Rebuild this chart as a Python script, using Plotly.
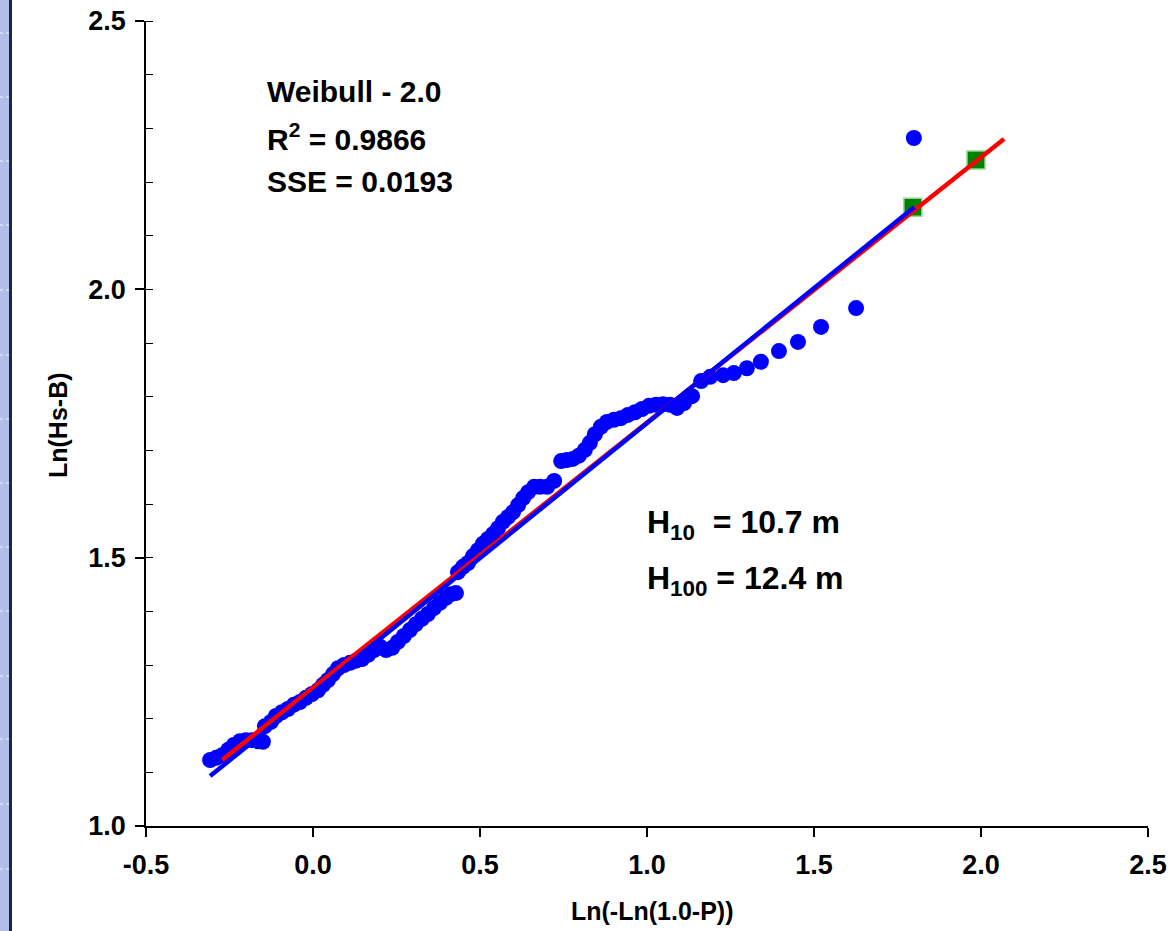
import plotly.graph_objects as go

# Observed points: Ln(-Ln(1.0-P)) vs Ln(Hs-B)
obs_x = [-0.308, -0.290, -0.272, -0.254, -0.237, -0.219, -0.201, -0.183, -0.165, -0.150,
         -0.144, -0.126, -0.111, -0.093, -0.075, -0.057, -0.039, -0.021, -0.003, 0.015,
         0.030, 0.045, 0.060, 0.075, 0.093, 0.111, 0.129, 0.147, 0.165, 0.183,
         0.201, 0.219, 0.237, 0.254, 0.272, 0.290, 0.308, 0.326, 0.344, 0.362,
         0.380, 0.398, 0.413, 0.428, 0.434, 0.449, 0.464, 0.479, 0.494, 0.509,
         0.524, 0.539, 0.554, 0.569, 0.584, 0.599, 0.614, 0.629, 0.644, 0.662,
         0.680, 0.701, 0.722, 0.743, 0.760, 0.778, 0.796, 0.814, 0.829, 0.844,
         0.862, 0.880, 0.901, 0.922, 0.943, 0.964, 0.985, 1.006, 1.027, 1.048,
         1.069, 1.090, 1.111, 1.135, 1.162, 1.189, 1.228, 1.260, 1.299, 1.341,
         1.395, 1.452, 1.521, 1.626, 1.799]
obs_y = [1.123, 1.127, 1.132, 1.142, 1.151, 1.158, 1.160, 1.160, 1.158, 1.157,
         1.186, 1.194, 1.205, 1.212, 1.218, 1.226, 1.231, 1.239, 1.246, 1.253,
         1.263, 1.272, 1.283, 1.294, 1.300, 1.304, 1.308, 1.311, 1.319, 1.328,
         1.334, 1.328, 1.332, 1.343, 1.354, 1.365, 1.376, 1.386, 1.395, 1.406,
         1.416, 1.425, 1.432, 1.434, 1.473, 1.483, 1.490, 1.503, 1.514, 1.526,
         1.535, 1.544, 1.555, 1.567, 1.576, 1.585, 1.598, 1.611, 1.622, 1.632,
         1.632, 1.632, 1.643, 1.680, 1.682, 1.684, 1.690, 1.701, 1.714, 1.730,
         1.744, 1.753, 1.757, 1.760, 1.766, 1.771, 1.777, 1.783, 1.785, 1.786,
         1.785, 1.779, 1.788, 1.801, 1.829, 1.837, 1.840, 1.844, 1.853, 1.865,
         1.885, 1.902, 1.930, 1.965, 2.282]

# Fitted lines (end points)
blue_fit_x = [-0.308, 1.800]
blue_fit_y = [1.093, 2.153]
red_fit_x = [-0.272, 2.069]
red_fit_y = [1.123, 2.280]

# Return-period estimates (green squares)
rp_x = [1.796, 1.985]
rp_y = [2.153, 2.241]

x_ticks = [-0.5, 0.0, 0.5, 1.0, 1.5, 2.0, 2.5]
x_ticklabels = ["-0.5", "0.0", "0.5", "1.0", "1.5", "2.0", "2.5"]
y_ticks = [1.0, 1.5, 2.0, 2.5]
y_ticklabels = ["1.0", "1.5", "2.0", "2.5"]

FONT = "Liberation Sans, Arial, sans-serif"

fig = go.Figure()
fig.add_trace(go.Scatter(x=obs_x, y=obs_y, mode="markers",
                         marker=dict(color="#0000FF", size=16, line=dict(width=0)),
                         showlegend=False, cliponaxis=False))
fig.add_trace(go.Scatter(x=rp_x, y=rp_y, mode="markers",
                         marker=dict(symbol="square", color="#008000", size=18,
                                     line=dict(color="#8FD88F", width=1.5)),
                         showlegend=False, cliponaxis=False))
fig.add_trace(go.Scatter(x=red_fit_x, y=red_fit_y, mode="lines",
                         line=dict(color="#FF0000", width=4.5),
                         showlegend=False, cliponaxis=False))
fig.add_trace(go.Scatter(x=blue_fit_x, y=blue_fit_y, mode="lines",
                         line=dict(color="#0000FF", width=4.5),
                         showlegend=False, cliponaxis=False))

W, H = 1176, 931
ML, MR, MT, MB = 146, 28, 21, 105
PW, PH = W - ML - MR, H - MT - MB


def px(p):
    return (p - ML) / PW


def py(p):
    return (H - MB - p) / PH


shapes = [
    dict(type="rect", xref="paper", yref="paper", x0=px(0), x1=px(9.5), y0=py(H), y1=py(0),
         fillcolor="#B3BDEA", line=dict(width=0), layer="below"),
    dict(type="line", xref="paper", yref="paper", x0=px(10.5), x1=px(10.5), y0=py(H), y1=py(0),
         line=dict(color="#1C2450", width=3)),
]
for yy in [33, 97, 161, 225, 290, 355, 419, 483, 547, 611, 676, 739, 804, 869]:
    shapes.append(dict(type="line", xref="paper", yref="paper", x0=px(0), x1=px(9),
                       y0=py(yy), y1=py(yy), line=dict(color="#F2F4FF", width=1, dash="dot")))

ann_font = dict(family=FONT, size=30, color="black", weight="bold")
h_font = dict(family=FONT, size=32, color="black", weight="bold")
title_font = dict(family=FONT, size=25, color="black", weight="bold")
annotations = [
    dict(text="Weibull - 2.0", x=px(265), y=py(91), xref="paper", yref="paper",
         xanchor="left", yanchor="middle", showarrow=False, font=ann_font),
    dict(text="R<sup>2</sup> = 0.9866", x=px(265), y=py(137), xref="paper", yref="paper",
         xanchor="left", yanchor="middle", showarrow=False, font=ann_font),
    dict(text="SSE = 0.0193", x=px(265), y=py(182), xref="paper", yref="paper",
         xanchor="left", yanchor="middle", showarrow=False, font=ann_font),
    dict(text="H<sub>10</sub>&nbsp; = 10.7 m", x=px(645), y=py(524), xref="paper", yref="paper",
         xanchor="left", yanchor="middle", showarrow=False, font=h_font),
    dict(text="H<sub>100</sub> = 12.4 m", x=px(645), y=py(580), xref="paper", yref="paper",
         xanchor="left", yanchor="middle", showarrow=False, font=h_font),
    dict(text="Ln(-Ln(1.0-P))", x=px(652), y=py(911), xref="paper", yref="paper",
         xanchor="center", yanchor="middle", showarrow=False, font=title_font),
    dict(text="Ln(Hs-B)", x=px(58), y=py(425), xref="paper", yref="paper",
         xanchor="center", yanchor="middle", showarrow=False, textangle=-90, font=title_font),
]

tick_font = dict(family=FONT, size=27, color="black", weight="bold")
fig.update_layout(
    width=W, height=H,
    margin=dict(l=ML, r=MR, t=MT, b=MB, pad=0, autoexpand=False),
    paper_bgcolor="white", plot_bgcolor="white",
    shapes=shapes, annotations=annotations,
    xaxis=dict(range=[-0.5, 2.5], tickvals=x_ticks, ticktext=x_ticklabels, automargin=False,
               showgrid=False, zeroline=False, showline=True, linecolor="black", linewidth=2,
               ticks="outside", ticklen=9, tickwidth=1.5, tickcolor="black",
               tickfont=tick_font, ticklabelstandoff=5),
    yaxis=dict(range=[1.0, 2.5], tickvals=y_ticks, ticktext=y_ticklabels, automargin=False,
               showgrid=False, zeroline=False, showline=True, linecolor="black", linewidth=1.5,
               ticks="outside", ticklen=9, tickwidth=1.5, tickcolor="black",
               minor=dict(ticks="inside", ticklen=7, tickwidth=1.2, tickcolor="black", dtick=0.1, showgrid=False),
               tickfont=tick_font, ticklabelstandoff=4),
)

fig.write_html("out.html")
